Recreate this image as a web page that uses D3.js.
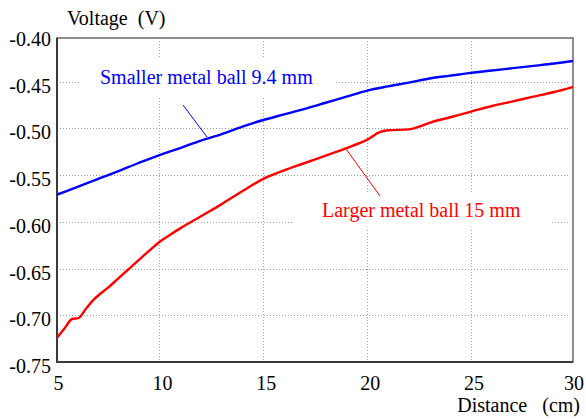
<!DOCTYPE html>
<html>
<head>
<meta charset="utf-8">
<script src="https://cdn.jsdelivr.net/npm/d3@7"></script>
<style>
  body { margin: 0; background: #fff; }
  svg { display: block; font-family: "Liberation Serif", "Times New Roman", serif; }
</style>
</head>
<body>
<svg id="chart" width="586" height="419"></svg>
<script>
// distance (cm) and voltage (V)
var smallX = [5, 6, 7, 8, 9, 10, 11, 12, 13, 14, 15, 16, 17, 18, 19, 20, 21, 22, 23, 24, 25, 26, 27, 28, 29, 30];
var smallV = [-0.5715, -0.563, -0.5545, -0.546, -0.537, -0.5285, -0.521, -0.513, -0.506, -0.498, -0.491, -0.485, -0.479, -0.4725, -0.466, -0.4595, -0.455, -0.451, -0.4465, -0.4435, -0.4405, -0.438, -0.4355, -0.433, -0.4305, -0.4275];

var largeX = [5, 5.4, 5.8, 6.1, 6.5, 6.85, 7.1, 7.5, 8, 8.5, 9, 9.5, 10, 10.5, 11, 12, 13, 14, 15, 16, 17, 18, 19, 20, 20.6, 21, 22, 22.5, 23, 24, 25, 26, 27, 28, 29, 30];
var largeV = [-0.726, -0.715, -0.704, -0.703, -0.692, -0.683, -0.678, -0.671, -0.661, -0.651, -0.641, -0.631, -0.6215, -0.614, -0.607, -0.594, -0.581, -0.567, -0.554, -0.545, -0.537, -0.529, -0.521, -0.512, -0.504, -0.502, -0.501, -0.498, -0.494, -0.488, -0.482, -0.476, -0.471, -0.466, -0.461, -0.455];

var xTicks = [5, 10, 15, 20, 25, 30];
var yTicks = [-0.40, -0.45, -0.50, -0.55, -0.60, -0.65, -0.70, -0.75];
var smallLabel = "Smaller metal ball 9.4 mm";
var largeLabel = "Larger metal ball 15 mm";

var svg = d3.select("#chart");
var x = d3.scaleLinear().domain([5, 30]).range([55.5, 575]);
var y = d3.scaleLinear().domain([-0.75, -0.40]).range([362, 35]);

var frame = {left: 57, right: 573, top: 38, bottom: 362};

svg.append("defs").append("clipPath").attr("id", "clip")
  .append("rect")
  .attr("x", frame.left).attr("y", frame.top)
  .attr("width", frame.right - frame.left).attr("height", frame.bottom - frame.top);

// grid
var grid = svg.append("g").attr("stroke", "#a0a0a0").attr("stroke-width", 1).attr("stroke-dasharray", "1,2");
grid.selectAll(".gx").data(xTicks.slice(1, -1)).enter().append("line")
  .attr("x1", d => Math.round(x(d)) + 0.5).attr("x2", d => Math.round(x(d)) + 0.5)
  .attr("y1", frame.top).attr("y2", frame.bottom);
grid.selectAll(".gy").data(yTicks.slice(1, -1)).enter().append("line")
  .attr("x1", frame.left).attr("x2", frame.right - 3)
  .attr("y1", d => Math.round(y(d)) + 0.5).attr("y2", d => Math.round(y(d)) + 0.5);

// white boxes behind the labels break the grid
svg.append("rect").attr("x", 80).attr("y", 58).attr("width", 255).attr("height", 40).attr("fill", "#fff");
svg.append("rect").attr("x", 293).attr("y", 192).attr("width", 257).attr("height", 38).attr("fill", "#fff");

// frame
svg.append("rect")
  .attr("x", frame.left).attr("y", frame.top)
  .attr("width", frame.right - frame.left).attr("height", frame.bottom - frame.top)
  .attr("fill", "none").attr("stroke", "#6a6a6a").attr("stroke-width", 1.5);
svg.append("path")
  .attr("d", "M" + frame.left + "," + frame.top + "V" + frame.bottom + "H" + frame.right)
  .attr("fill", "none").attr("stroke", "#3a3a3a").attr("stroke-width", 2);

// lines
var line = d3.line().x(d => x(d[0])).y(d => y(d[1])).curve(d3.curveMonotoneX);
var plot = svg.append("g").attr("clip-path", "url(#clip)");
plot.append("path").datum(d3.zip(smallX, smallV))
  .attr("d", line).attr("fill", "none").attr("stroke", "#0000ff").attr("stroke-width", 2.4);
plot.append("path").datum(d3.zip(largeX, largeV))
  .attr("d", line).attr("fill", "none").attr("stroke", "#ff0000").attr("stroke-width", 2.4);

// tick labels
svg.selectAll(".yl").data(yTicks).enter().append("text")
  .attr("x", 51).attr("y", d => y(d) + 11)
  .attr("text-anchor", "end").attr("font-size", 20).attr("fill", "#000")
  .text(d => d.toFixed(2));
svg.selectAll(".xl").data(xTicks).enter().append("text")
  .attr("x", d => Math.min(x(d) + 3, 574)).attr("y", 390)
  .attr("text-anchor", "middle").attr("font-size", 20).attr("fill", "#000")
  .text(d => d);

// axis titles
svg.append("text").attr("x", 67).attr("y", 25).attr("font-size", 20)
  .attr("xml:space", "preserve").text("Voltage  (V)");
svg.append("text").attr("x", 580).attr("y", 412).attr("font-size", 20)
  .attr("text-anchor", "end").attr("xml:space", "preserve").text("Distance   (cm)");

// annotations
svg.append("text").attr("x", 100).attr("y", 84).attr("font-size", 20).attr("fill", "#0000ff").text(smallLabel);
svg.append("line").attr("x1", 183).attr("y1", 105).attr("x2", 207).attr("y2", 137)
  .attr("stroke", "#0000ff").attr("stroke-width", 1);
svg.append("text").attr("x", 322).attr("y", 217).attr("font-size", 20).attr("fill", "#ff0000").text(largeLabel);
svg.append("line").attr("x1", 346).attr("y1", 149).attr("x2", 380).attr("y2", 196)
  .attr("stroke", "#ff0000").attr("stroke-width", 1);
</script>
</body>
</html>
